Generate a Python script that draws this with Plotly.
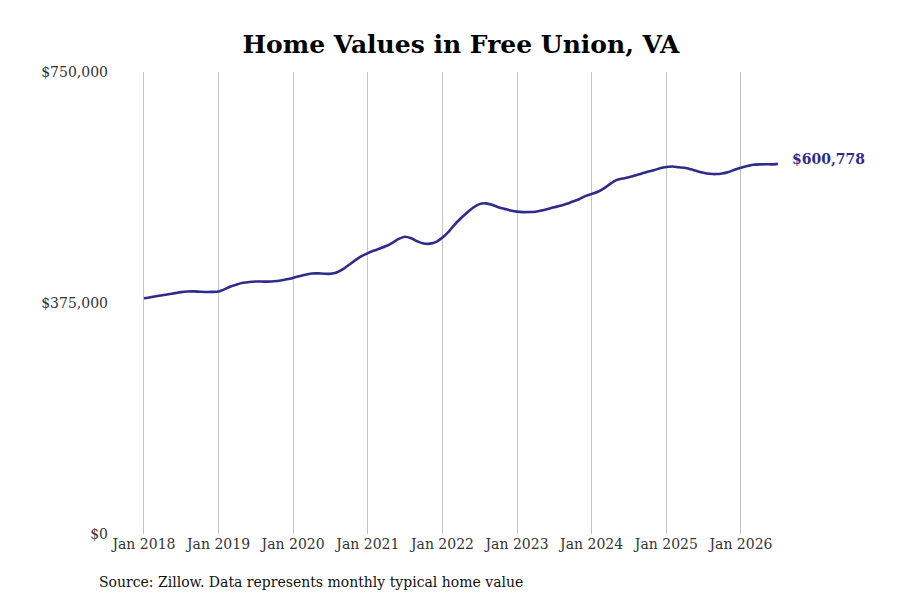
import pandas as pd
import plotly.graph_objects as go

months = pd.date_range("2018-01-01", "2026-07-01", freq="MS")

home_values = [
    382600, 384300, 386000, 387600, 389300, 391000, 392600, 393600, 393800, 393300, 392800, 393000,
    393700, 397500, 401800, 405200, 407800, 409200, 409800, 409800, 409700, 410200, 411500, 413400,
    415700, 418400, 421000, 422800, 423100, 422500, 422400, 424600, 430000, 437000, 444500, 451000,
    456000, 460200, 463500, 467500, 472800, 479000, 482500, 480200, 475000, 471500, 471400, 474200,
    481500, 491000, 502000, 512500, 521500, 530000, 535500, 536800, 534500, 530500, 527800, 525200,
    523300, 522600, 522700, 523200, 525000, 527600, 530400, 532700, 536000, 539800, 543500, 548500,
    552000, 555500, 561000, 568500, 574500, 577000, 579200, 582000, 585000, 588000, 590600, 593800,
    595800, 596500, 595300, 594500, 592000, 589000, 586500, 584800, 584300, 585300, 587700, 591300,
    594500, 597300, 599300, 600000, 600200, 600100, 600778,
]

y_ticks = [0, 375000, 750000]
y_tick_labels = ["$0", "$375,000", "$750,000"]

line_color = "#2f2b88"
serif = "DejaVu Serif"

fig = go.Figure()

fig.add_scatter(
    x=months, y=home_values, mode="lines",
    line=dict(color=line_color, width=2.6, shape="spline", smoothing=0.6),
    hoverinfo="skip", showlegend=False)

# end-of-line value label
fig.add_annotation(
    x=months[-1], y=home_values[-1],
    text="<b>${:,}</b>".format(home_values[-1]),
    showarrow=False, xanchor="left", yanchor="middle", xshift=12, yshift=5,
    font=dict(family=serif, size=14, color=line_color))

fig.add_annotation(
    xref="paper", yref="paper", x=-0.0174, y=-0.104,
    text="Source: Zillow. Data represents monthly typical home value",
    showarrow=False, xanchor="left", yanchor="middle",
    font=dict(family=serif, size=14, color="#111111"))

fig.update_layout(
    title=dict(text="<b>Home Values in Free Union, VA</b>", x=0.5078, xanchor="center",
               y=0.9392, yanchor="middle", yref="container",
               font=dict(family=serif, size=25, color="#000000")),
    width=892, height=592,
    margin=dict(l=101, r=100, t=64, b=66),
    plot_bgcolor="white", paper_bgcolor="white",
    font=dict(family=serif, size=14, color="#333333"))

fig.update_xaxes(
    range=["2017-07-14", "2026-10-17"],
    dtick="M12", tick0="2018-01-01", tickformat="%b %Y",
    showgrid=True, gridcolor="#c4c4c4", gridwidth=1,
    showline=False, zeroline=False, ticks="")

fig.update_yaxes(
    range=[0, 750000], tickvals=y_ticks, ticktext=y_tick_labels,
    showgrid=False, showline=False, zeroline=False, ticks="")

fig.write_html("out.html")
